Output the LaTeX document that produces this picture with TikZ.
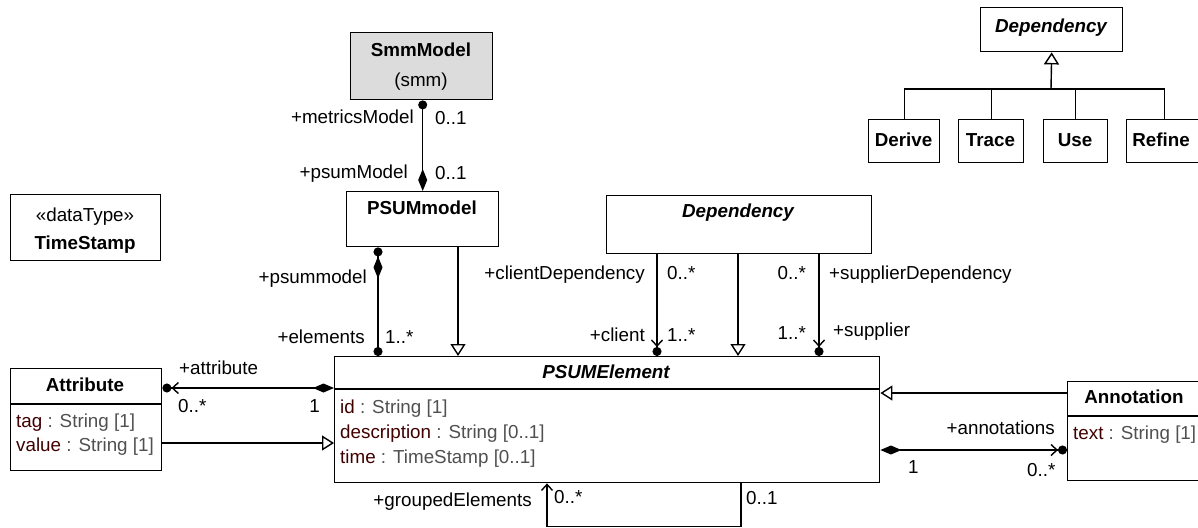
\documentclass[tikz,border=0pt]{standalone}
\usepackage{fontspec}
\setmainfont{Liberation Sans}
\usetikzlibrary{arrows.meta}
\definecolor{attrname}{RGB}{64,0,0}
\definecolor{attrtype}{RGB}{80,80,80}
\definecolor{boxgray}{RGB}{220,220,220}
\begin{document}
\begin{tikzpicture}[x=1pt,y=-1pt,
  every node/.style={font=\fontsize{18.8}{22}\selectfont, inner sep=0pt},
  cls/.style={draw, line width=1.4pt, anchor=north west, inner sep=0pt},
  ttl/.style={font=\fontsize{18.8}{22}\selectfont\bfseries, anchor=mid, yshift=-3.5pt},
  ttli/.style={font=\fontsize{18.8}{22}\selectfont\bfseries\itshape, anchor=mid, yshift=-3.5pt},
  txt/.style={anchor=mid, yshift=-3.5pt},
  att/.style={anchor=mid west, yshift=-3.5pt},
  lblE/.style={anchor=mid east, yshift=-3.5pt},
  lblW/.style={anchor=mid west, yshift=-3.5pt},
  conn/.style={line width=1.4pt},
  gen/.style={conn, -{Triangle[open, length=12pt, width=15pt]}},
  navdot/.style={conn, -{Straight Barb[length=6pt, width=11pt] Circle[length=9pt]}},
  nav/.style={conn, -{Straight Barb[length=6pt, width=11pt]}},
  ]
\useasboundingbox (0,0) rectangle (1198,527);
\clip (0,0) rectangle (1198,527);

% ---------- boxes ----------
\node[cls, fill=boxgray, minimum width=142pt, minimum height=67pt] (smm) at (350,32) {};
\node[ttl] (smmT) at (421,50) {SmmModel};
\node[txt] (smmS) at (421,80) {(smm)};

\node[cls, minimum width=152pt, minimum height=55pt] (psum) at (346,191) {};
\node[ttl] (psumT) at (422,208) {PSUMmodel};

\node[cls, minimum width=150pt, minimum height=66pt] (ts) at (10,194) {};
\node[txt] (tsS) at (85,215) {«dataType»};
\node[ttl] (tsT) at (85,243) {TimeStamp};

\node[cls, minimum width=265pt, minimum height=58pt] (depm) at (606,195) {};
\node[ttli] (depmT) at (738,211) {Dependency};

\node[cls, minimum width=545pt, minimum height=126pt] (elem) at (334,356) {};
\draw[conn] (334,389) -- (879,389);
\node[ttli] (elemT) at (606,372) {PSUMElement};
\node[att] (eA1) at (340,407) {\textcolor{attrname}{id} \textcolor{attrtype}{: String [1]}};
\node[att] (eA2) at (340,432) {\textcolor{attrname}{description} \textcolor{attrtype}{: String [0..1]}};
\node[att] (eA3) at (340,457) {\textcolor{attrname}{time} \textcolor{attrtype}{: TimeStamp [0..1]}};

\node[cls, minimum width=151pt, minimum height=102pt] (attr) at (10,368) {};
\draw[conn] (10,404) -- (161,404);
\node[ttl] (attrT) at (85,385) {Attribute};
\node[att] (aA1) at (16,421) {\textcolor{attrname}{tag} \textcolor{attrtype}{: String [1]}};
\node[att] (aA2) at (16,445) {\textcolor{attrname}{value} \textcolor{attrtype}{: String [1]}};

\node[cls, minimum width=140pt, minimum height=99pt] (annot) at (1067,381) {};
\draw[conn] (1067,416) -- (1207,416);
\node[ttl] (annotT) at (1134,397) {Annotation};
\node[att] (nA1) at (1073,433) {\textcolor{attrname}{text} \textcolor{attrtype}{: String [1]}};

\node[cls, minimum width=142pt, minimum height=44pt] (depT) at (980,7) {};
\node[ttli] (depTT) at (1051,26) {Dependency};
\node[cls, minimum width=71pt, minimum height=43pt] (derive) at (868,119) {};
\node[ttl] (deriveT) at (903.5,140) {Derive};
\node[cls, minimum width=65pt, minimum height=43pt] (trace) at (958,119) {};
\node[ttl] (traceT) at (990.5,140) {Trace};
\node[cls, minimum width=64pt, minimum height=43pt] (use) at (1043,119) {};
\node[ttl] (useT) at (1075,140) {Use};
\node[cls, minimum width=75pt, minimum height=43pt] (refine) at (1126,119) {};
\node[ttl] (refineT) at (1161,140) {Refine};

% ---------- helper coordinates ----------
\coordinate (hub) at (1051,89);
\coordinate (xel) at (378,0);
\coordinate (xgp) at (458,0);
\coordinate (xcl) at (657,0);
\coordinate (xgd) at (738,0);
\coordinate (xsu) at (819,0);
\coordinate (yat) at (0,388);
\coordinate (yag) at (0,443);
\coordinate (yng) at (0,393);
\coordinate (yna) at (0,450);
\coordinate (xs1) at (547,0);
\coordinate (xs2) at (741,0);

% ---------- dependency hierarchy ----------
\draw[conn] (derive.north) |- (hub) -| (refine.north);
\draw[conn] (trace.north) -- (trace.north |- hub);
\draw[conn] (use.north) -- (use.north |- hub);
\draw[gen] (hub) -- (depT.south);

% ---------- SmmModel - PSUMmodel ----------
\draw[conn, {Circle[length=9pt]}-{Diamond[length=22pt, width=9pt]}] (smm.south -| psum.north) -- (psum.north);
\node[lblE] (l1) at (414,117) {+metricsModel};
\node[lblW] (l2) at (435,118) {0..1};
\node[lblE] (l3) at (408,172) {+psumModel};
\node[lblW] (l4) at (435,173) {0..1};

% ---------- PSUMmodel - PSUMElement ----------
\draw[conn, {Circle[length=9pt] Diamond[length=22pt, width=9pt]}-{Circle[length=9pt]}] (psum.south -| xel) -- (elem.north -| xel);
\node[lblE] (l5) at (367,277) {+psummodel};
\node[lblE] (l6) at (365,337) {+elements};
\node[lblW] (l7) at (385,337) {1..*};
\draw[gen] (psum.south -| xgp) -- (elem.north -| xgp);

% ---------- Dependency - PSUMElement ----------
\draw[navdot] (depm.south -| xcl) -- (elem.north -| xcl);
\draw[gen] (depm.south -| xgd) -- (elem.north -| xgd);
\draw[navdot] (depm.south -| xsu) -- (elem.north -| xsu);
\node[lblE] (l8) at (645,273) {+clientDependency};
\node[lblW] (l9) at (667,273) {0..*};
\node[lblE] (l10) at (806,273) {0..*};
\node[lblW] (l11) at (829,273) {+supplierDependency};
\node[lblE] (l12) at (645,335) {+client};
\node[lblW] (l13) at (667,335) {1..*};
\node[lblE] (l14) at (806,333) {1..*};
\node[lblW] (l15) at (833,330) {+supplier};

% ---------- Attribute ----------
\draw[conn, {Diamond[length=21pt, width=9pt]}-{Straight Barb[length=6pt, width=11pt] Circle[length=9pt]}] (elem.west |- yat) -- (attr.east |- yat);
\draw[gen] (attr.east |- yag) -- (elem.west |- yag);
\node[lblW] (l16) at (179,368) {+attribute};
\node[lblW] (l17) at (178,406) {0..*};
\node[lblE] (l18) at (320,406) {1};

% ---------- Annotation ----------
\draw[gen] (annot.west |- yng) -- (elem.east |- yng);
\draw[conn, {Diamond[length=21pt, width=9pt]}-{Straight Barb[length=6pt, width=11pt] Circle[length=9pt]}] (elem.east |- yna) -- (annot.west |- yna);
\node[lblE] (l19) at (1055,428) {+annotations};
\node[lblW] (l20) at (908,467) {1};
\node[lblW] (l21) at (1027,470) {0..*};

% ---------- self association ----------
\draw[nav] (elem.south -| xs2) -- ++(0,43) -| (elem.south -| xs1);
\node[lblE] (l22) at (532,500) {+groupedElements};
\node[lblW] (l23) at (554,497) {0..*};
\node[lblW] (l24) at (746,498) {0..1};
\end{tikzpicture}
\end{document}
